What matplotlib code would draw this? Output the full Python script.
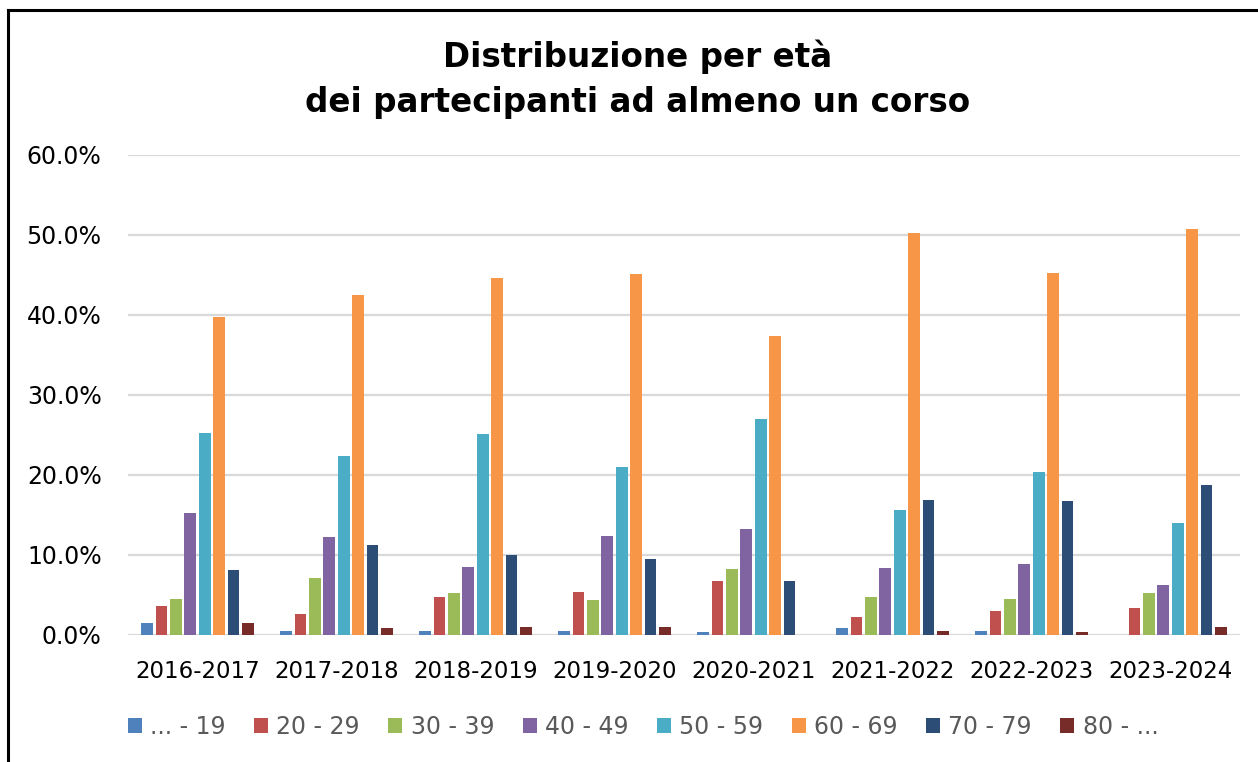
#---------------------------------------------------------------------------------------------
# Required modules
import matplotlib
matplotlib.use('Agg')
import matplotlib.pyplot as plt                  # Plotting library
import numpy as np                               # Scientific computing with Python
from matplotlib.lines import Line2D              # Frame lines around the chart
#---------------------------------------------------------------------------------------------

# Academic years (categories)
years = ['2016-2017', '2017-2018', '2018-2019', '2019-2020',
         '2020-2021', '2021-2022', '2022-2023', '2023-2024']

# Age classes (legend labels)
age_classes = ['... - 19', '20 - 29', '30 - 39', '40 - 49',
               '50 - 59', '60 - 69', '70 - 79', '80 - ...']

# Share of participants per age class (%), one list per class
age_19 = [1.5, 0.55, 0.55, 0.55, 0.33, 0.83, 0.55, 0.0]
age_20 = [3.6, 2.6, 4.7, 5.4, 6.8, 2.3, 3.0, 3.4]
age_30 = [4.5, 7.1, 5.2, 4.4, 8.2, 4.7, 4.5, 5.2]
age_40 = [15.3, 12.25, 8.5, 12.4, 13.2, 8.4, 8.9, 6.3]
age_50 = [25.3, 22.4, 25.1, 21.0, 27.0, 15.6, 20.4, 14.0]
age_60 = [39.8, 42.5, 44.6, 45.1, 37.4, 50.3, 45.25, 50.7]
age_70 = [8.1, 11.3, 10.0, 9.5, 6.8, 16.9, 16.7, 18.8]
age_80 = [1.5, 0.83, 1.0, 1.0, 0.0, 0.55, 0.33, 1.0]

series = [age_19, age_20, age_30, age_40, age_50, age_60, age_70, age_80]

# Y axis ticks (%)
yticks = [0, 10, 20, 30, 40, 50, 60]

# Excel-like palette
colors = ['#4f81bd', '#c0504d', '#9bbb59', '#8064a2',
          '#4bacc6', '#f79646', '#2c4d75', '#772c2a']

#---------------------------------------------------------------------------------------------
# Choose the plot size (width x height, in inches)
fig = plt.figure(figsize=(12.58, 7.62), dpi=100)
ax = fig.add_axes([128/1258, 1 - 635/762, 1112/1258, 480/762])

x = np.arange(len(years))
pitch = 0.1036      # distance between bars in a group
width = 0.084       # bar width

for j, values in enumerate(series):
    ax.bar(x + (j - 3.5) * pitch, values, width=width, color=colors[j],
           label=age_classes[j], zorder=3)

# Axes limits, ticks and grid
ax.set_xlim(-0.5, len(years) - 0.5)
ax.set_ylim(0, 60)
ax.set_yticks(yticks)
ax.set_yticklabels(['%.1f%%' % v for v in yticks])
ax.set_xticks(x)
ax.set_xticklabels(years)
ax.tick_params(axis='y', length=0, pad=19, labelsize=17, colors='black')
ax.tick_params(axis='x', length=0, pad=18, labelsize=16.5, colors='black')
ax.yaxis.grid(True, color='#d9d9d9', linewidth=1.6, zorder=0)
ax.set_axisbelow(True)
for s in ax.spines.values():
    s.set_visible(False)

# Title (two lines)
fig.text(638/1258, 1 - 67/762, 'Distribuzione per età', ha='center', va='baseline',
         fontsize=23.5, fontweight='bold')
fig.text(638/1258, 1 - 112/762, 'dei partecipanti ad almeno un corso', ha='center',
         va='baseline', fontsize=23.5, fontweight='bold')

# Legend at the bottom
leg = fig.legend(loc='center', bbox_to_anchor=(643/1258, 1 - 727/762), ncol=8,
                 frameon=False, fontsize=17, handlelength=0.6, handleheight=0.6,
                 handletextpad=0.35, columnspacing=1.2, labelcolor='#595959')

# Black frame on the left and top
fig.add_artist(Line2D([8/1258, 8/1258], [0, 1 - 10/762], transform=fig.transFigure,
                      color='black', linewidth=2.2))
fig.add_artist(Line2D([8/1258, 1], [1 - 10/762, 1 - 10/762], transform=fig.transFigure,
                      color='black', linewidth=2.2))

# Save the image
plt.savefig('out.png', dpi=100)
